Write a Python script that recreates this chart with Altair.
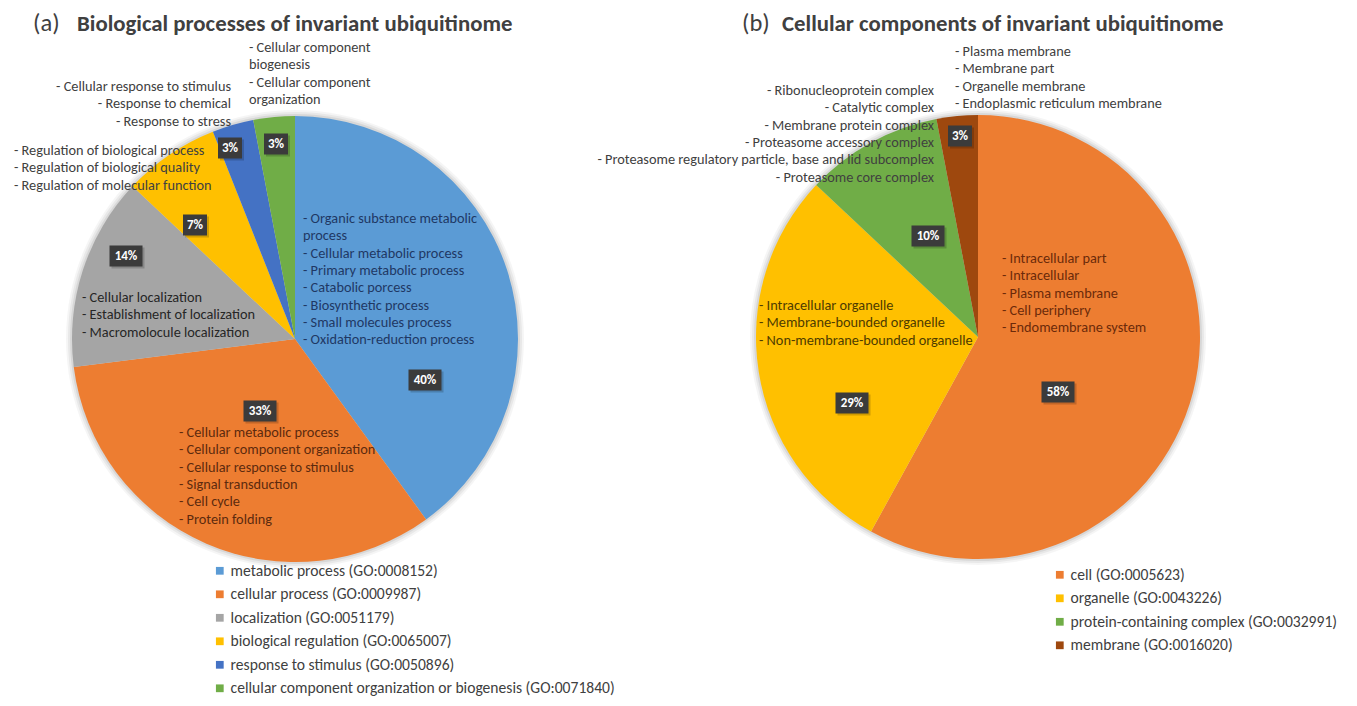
import altair as alt
import pandas as pd

# ---------------- data ----------------
bp_categories = [
    "metabolic process (GO:0008152)",
    "cellular process (GO:0009987)",
    "localization (GO:0051179)",
    "biological regulation (GO:0065007)",
    "response to stimulus (GO:0050896)",
    "cellular component organization or biogenesis (GO:0071840)",
]
bp_values = [40, 33, 14, 7, 3, 3]
bp_colors = ["#5B9BD5", "#ED7D31", "#A5A5A5", "#FFC000", "#4472C4", "#70AD47"]
bp_terms = [
    ["- Organic substance metabolic", "process", "- Cellular metabolic process",
     "- Primary metabolic process", "- Catabolic porcess", "- Biosynthetic process",
     "- Small molecules process", "- Oxidation-reduction process"],
    ["- Cellular metabolic process", "- Cellular component organization",
     "- Cellular response to stimulus", "- Signal transduction", "- Cell cycle",
     "- Protein folding"],
    ["- Cellular localization", "- Establishment of localization",
     "- Macromolocule localization"],
    ["- Regulation of biological process", "- Regulation of biological quality",
     "- Regulation of molecular function"],
    ["- Cellular response to stimulus", "- Response to chemical", "- Response to stress"],
    ["- Cellular component", "biogenesis", "- Cellular component", "organization"],
]

cc_categories = [
    "cell (GO:0005623)",
    "organelle (GO:0043226)",
    "protein-containing complex (GO:0032991)",
    "membrane (GO:0016020)",
]
cc_values = [58, 29, 10, 3]
cc_colors = ["#ED7D31", "#FFC000", "#70AD47", "#9E480E"]
cc_terms = [
    ["- Intracellular part", "- Intracellular", "- Plasma membrane", "- Cell periphery",
     "- Endomembrane system"],
    ["- Intracellular organelle", "- Membrane-bounded organelle",
     "- Non-membrane-bounded organelle"],
    ["- Ribonucleoprotein complex", "- Catalytic complex", "- Membrane protein complex",
     "- Proteasome accessory complex",
     "- Proteasome regulatory particle, base and lid subcomplex",
     "- Proteasome core complex"],
    ["- Plasma membrane", "- Membrane part", "- Organelle membrane",
     "- Endoplasmic reticulum membrane"],
]

panel_prefix = ["(a)", "(b)"]
panel_titles = ["Biological processes of invariant ubiquitinome",
                "Cellular components of invariant ubiquitinome"]

# ---------------- layout (pixels, page coords) ----------------
W, H = 1341, 690
OFF = 8
FONT = "Carlito, Lato, sans-serif"
LH = 17.3
pies = [
    dict(cx=295, cy=339, r=223, lx=212, ly=563),
    dict(cx=978, cy=337, r=222, lx=1052, ly=567),
]
bp_term_pos = [(303, 219, "left", "#1F3864"), (179, 433, "left", "#5C2A0E"),
               (82, 298, "left", "#262626"), (14, 151, "left", "#404040"),
               (231, 87, "right", "#404040"), (249, 48, "left", "#404040")]
cc_term_pos = [(1002, 259, "left", "#6B2A0A"), (759, 306, "left", "#4D3B00"),
               (934, 91, "right", "#404040"), (955, 52, "left", "#404040")]
bp_pct_pos = [(425, 380), (260, 411), (126, 256), (195, 225), (230, 148), (276, 144)]
cc_pct_pos = [(1058, 392), (852, 403), (928, 236), (960, 136)]
title_pos = [(33, 77, 24), (742, 782, 24)]

layers = []
one = pd.DataFrame({"a": [0]})

def pie_layers(cats, vals, colors, p):
    out = []
    cx, cy, r = p["cx"] - OFF, p["cy"] - OFF, p["r"]
    # soft halo around the pie
    for extra, op in [(6, 0.04), (4, 0.05), (2, 0.07)]:
        out.append(alt.Chart(one).mark_arc(theta=0, theta2=6.2832, outerRadius=r + extra,
                                            color="#000000", opacity=op)
                   .encode(x=alt.value(cx), y=alt.value(cy)))
    df = pd.DataFrame({"category": cats, "value": vals, "order": list(range(len(cats)))})
    arc = alt.Chart(df).mark_arc(outerRadius=r).encode(
        theta=alt.Theta("value:Q", stack=True),
        color=alt.Color(
            "category:N",
            sort=cats,
            scale=alt.Scale(domain=cats, range=colors),
            legend=alt.Legend(
                orient="none", legendX=p["lx"] - OFF, legendY=p["ly"] - OFF,
                title=None, symbolType="square", symbolSize=60, symbolStrokeWidth=0,
                labelFont=FONT, labelFontSize=15.6, labelColor="#404040",
                rowPadding=6.5, labelOffset=3, labelLimit=700, padding=0,
            ),
        ),
        order=alt.Order("order:Q"),
        x=alt.value(cx), y=alt.value(cy),
    )
    out.append(arc)
    return out

for i, (cats, vals, cols) in enumerate([(bp_categories, bp_values, bp_colors),
                                         (cc_categories, cc_values, cc_colors)]):
    layers += pie_layers(cats, vals, cols, pies[i])

# percentage boxes
pct_rows = []
for vals, pos in [(bp_values, bp_pct_pos), (cc_values, cc_pct_pos)]:
    for v, (x, y) in zip(vals, pos):
        label = f"{v}%"
        half = 16.5 if len(label) > 2 else 12
        pct_rows.append(dict(label=label, x=x - OFF, y=y - OFF,
                             x1=x - OFF - half, x2=x - OFF + half,
                             y1=y - OFF - 10.5, y2=y - OFF + 10.5,
                             sx1=x - OFF - half + 2, sx2=x - OFF + half + 2,
                             sy1=y - OFF - 8.5, sy2=y - OFF + 12.5))
pct_df = pd.DataFrame(pct_rows)
layers.append(alt.Chart(pct_df).mark_rect(color="#000000", opacity=0.18).encode(
    x=alt.X("sx1:Q", scale=None), x2="sx2", y=alt.Y("sy1:Q", scale=None), y2="sy2"))
layers.append(alt.Chart(pct_df).mark_rect(color="#3B3B3B").encode(
    x=alt.X("x1:Q", scale=None), x2="x2", y=alt.Y("y1:Q", scale=None), y2="y2"))
layers.append(alt.Chart(pct_df).mark_text(font=FONT, fontSize=13, fontWeight="bold",
                                          color="white", baseline="middle", align="center")
              .encode(x=alt.X("x:Q", scale=None), y=alt.Y("y:Q", scale=None), text="label:N"))

# term annotations
term_rows = []
for terms, pos in [(bp_terms, bp_term_pos), (cc_terms, cc_term_pos)]:
    for lines, (x, y, al, col) in zip(terms, pos):
        for k, line in enumerate(lines):
            term_rows.append(dict(text=line, x=x - OFF, y=y - OFF + k * LH, align=al, color=col))
term_df = pd.DataFrame(term_rows)
for al in ["left", "right"]:
    layers.append(alt.Chart(term_df[term_df["align"] == al]).mark_text(
        font=FONT, fontSize=14.3, baseline="middle", align=al).encode(
        x=alt.X("x:Q", scale=None), y=alt.Y("y:Q", scale=None), text="text:N",
        color=alt.Color("color:N", scale=None)))

# panel titles
title_rows = []
for pre, ttl, (px, tx, ty) in zip(panel_prefix, panel_titles, title_pos):
    title_rows.append(dict(pre=pre, ttl=ttl, px=px - OFF, tx=tx - OFF, y=ty - OFF))
title_df = pd.DataFrame(title_rows)
layers.append(alt.Chart(title_df).mark_text(font=FONT, fontSize=24.5, color="#404040",
                                            align="left", baseline="middle")
              .encode(x=alt.X("px:Q", scale=None), y=alt.Y("y:Q", scale=None), text="pre:N"))
layers.append(alt.Chart(title_df).mark_text(font=FONT, fontSize=22.8, fontWeight="bold",
                                            color="#404040", align="left", baseline="middle")
              .encode(x=alt.X("tx:Q", scale=None), y=alt.Y("y:Q", scale=None), text="ttl:N"))

chart = (
    alt.layer(*layers)
    .resolve_scale(color="independent")
    .resolve_legend(color="independent")
    .properties(width=W, height=H, padding=0, autosize=alt.AutoSizeParams(type="none"),
                background="white")
    .configure_view(stroke=None)
)

chart.save("out.html", embed_options={"renderer": "svg", "actions": False})
